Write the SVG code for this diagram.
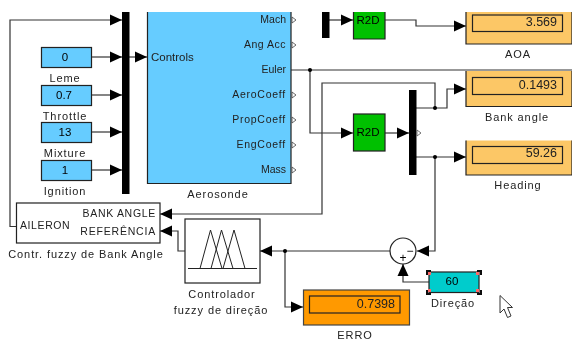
<svg xmlns="http://www.w3.org/2000/svg" width="572" height="342" viewBox="0 0 572 342">
<defs>
<marker id="ah" markerUnits="userSpaceOnUse" markerWidth="13" markerHeight="13" refX="12" refY="6.500" orient="auto"><path d="M0,1 L12,6.500 L0,12 Z" fill="#000"/></marker>
<filter id="soft" x="0" y="0" width="100%" height="100%"><feGaussianBlur stdDeviation="0.35"/></filter>
</defs>
<style>
text{font-family:"Liberation Sans",Arial,sans-serif;font-size:11px;fill:#222}
.lbl{letter-spacing:.9px;text-anchor:middle}
.c{fill:#000;font-size:11.5px;text-anchor:middle}
.r{text-anchor:end;font-size:10.5px}
.wide{letter-spacing:.75px}
.v{font-size:12.5px;text-anchor:end;fill:#222}
.blk{stroke:#222;stroke-width:1.2}
.const{fill:#66ccff}
.disp{fill:#fcc766}
.in{fill:none;stroke:#222;stroke-width:1.2}
.bus{fill:#000}
.w{fill:none;stroke:#333;stroke-width:1.2}
.a{marker-end:url(#ah)}
.dot{fill:#000}
.g{fill:#00c000;stroke:#222;stroke-width:1.2}
</style>
<g filter="url(#soft)">
<g id="connectors">
<path class="w a" d="M16,226.500 H10 V20 H122"/>
<path class="w a" d="M91,57 H122"/>
<path class="w a" d="M91,95 H122"/>
<path class="w a" d="M91,132 H122"/>
<path class="w a" d="M91,170 H122"/>
<path class="w a" d="M129,57 H147"/>
<path class="w a" d="M329,20 H353"/>
<path class="w a" d="M385,20 H416 V26 H466"/>
<path class="w" d="M291,70 H572"/>
<path class="w a" d="M310,70 V133 H353"/>
<path class="w a" d="M385,133 H409"/>
<path class="w a" d="M416,108 H447 V89 H466"/>
<path class="w a" d="M416,157 H466"/>
<path class="w a" d="M435,108 V83 H322 V214 H160"/>
<path class="w a" d="M435,157 V251 H417"/>
<path class="w a" d="M429,282 H403 V264"/>
<path class="w a" d="M390,251 H260"/>
<path class="w a" d="M285,251 V307 H303"/>
<path class="w a" d="M185,251 H178 V231 H160"/>
<circle class="dot" cx="310" cy="70" r="2"/>
<circle class="dot" cx="435" cy="108" r="2"/>
<circle class="dot" cx="435" cy="157" r="2"/>
<circle class="dot" cx="285" cy="251" r="2"/>
</g>
<g id="bus1"><rect class="bus" x="122" y="12" width="7.500" height="182"/></g>
<g id="leme"><rect class="const blk" x="41.500" y="47.500" width="50" height="20"/><text class="c" x="65" y="61">0</text><text class="lbl" x="65" y="82">Leme</text></g>
<g id="throttle"><rect class="const blk" x="41.500" y="85.500" width="50" height="20"/><text class="c" x="64" y="99">0.7</text><text class="lbl" x="65" y="120">Throttle</text></g>
<g id="mixture"><rect class="const blk" x="41.500" y="122.500" width="50" height="20"/><text class="c" x="65" y="136">13</text><text class="lbl" x="65" y="157">Mixture</text></g>
<g id="ignition"><rect class="const blk" x="41.500" y="160.500" width="50" height="20"/><text class="c" x="65" y="174">1</text><text class="lbl" x="65" y="195">Ignition</text></g>
<g id="aerosonde">
<path class="const blk" d="M147.500,12 V183.500 H291 V12"/>
<text x="151" y="61" style="font-size:11.500px">Controls</text>
<text class="r" x="286" y="23">Mach</text>
<text class="r" x="286" y="48" style="letter-spacing:.5px">Ang Acc</text>
<text class="r" x="286" y="73">Euler</text>
<text class="r wide" x="286" y="98">AeroCoeff</text>
<text class="r wide" x="286" y="123">PropCoeff</text>
<text class="r wide" x="286" y="148">EngCoeff</text>
<text class="r" x="286" y="173">Mass</text>
<path fill="#fff" stroke="#444" stroke-width=".8" d="M292,17 l4,3 l-4,3 Z M292,42 l4,3 l-4,3 Z M292,92 l4,3 l-4,3 Z M292,117 l4,3 l-4,3 Z M292,142 l4,3 l-4,3 Z M292,167 l4,3 l-4,3 Z"/>
<text class="lbl" x="218" y="198">Aerosonde</text>
</g>
<g id="bus2"><rect class="bus" x="322" y="12" width="7.500" height="26"/></g>
<g id="r2d1"><path class="g" d="M353.500,12 V39 H385 V12"/><text class="c" x="368" y="24">R2D</text></g>
<g id="aoa"><path class="disp blk" d="M466,12 V44 H572 V12"/><rect class="in" x="472.500" y="15" width="90" height="16.500"/><text class="v" x="557" y="26">3.569</text><text class="lbl" x="518" y="58">AOA</text></g>
<g id="r2d2"><rect class="g" x="353.500" y="114" width="31.500" height="37"/><text class="c" x="368" y="136">R2D</text></g>
<g id="bus3"><rect class="bus" x="409" y="90" width="7.500" height="85"/><path fill="#fff" stroke="#555" stroke-width=".8" d="M417,130 l4,3 l-4,3 Z"/></g>
<g id="bank"><path class="disp blk" d="M466,71 V106.500 H572 V71"/><rect class="in" x="472.500" y="77.500" width="90" height="17"/><text class="v" x="557" y="89">0.1493</text><text class="lbl" x="517" y="121">Bank angle</text></g>
<g id="heading"><path class="disp blk" d="M466,140.500 V175 H572 V140.500"/><rect class="in" x="472.500" y="146.500" width="90" height="17"/><text class="v" x="557" y="157">59.26</text><text class="lbl" x="518" y="189">Heading</text></g>
<g id="contr"><rect x="16.500" y="203" width="143.500" height="40" fill="#fff" stroke="#222" stroke-width="1.200"/>
<text x="20" y="229" style="font-size:10.500px;letter-spacing:.6px">AILERON</text>
<text class="r" x="156" y="217" style="letter-spacing:.7px">BANK ANGLE</text>
<text class="r" x="156" y="235" style="letter-spacing:.8px">REFERÊNCIA</text>
<text class="lbl" x="86" y="258">Contr. fuzzy de Bank Angle</text></g>
<g id="fuzzy"><rect x="185" y="219" width="75" height="64" fill="#fff" stroke="#222" stroke-width="1.200"/>
<path fill="none" stroke="#222" stroke-width="1" d="M188,268.500 H257 M200,268.500 L210.500,230 L222,268.500 M211,268.500 L221.500,230 L233,268.500 M223,268.500 L234,230 L245,268.500"/>
<text class="lbl" x="222" y="298">Controlador</text><text class="lbl" x="221" y="314">fuzzy de direção</text></g>
<g id="sum"><circle cx="403" cy="251" r="13" fill="#fff" stroke="#222" stroke-width="1.200"/><text x="410" y="255" style="font-size:12px;text-anchor:middle;fill:#000">−</text><text x="403" y="262" style="font-size:12px;text-anchor:middle;fill:#000">+</text></g>
<g id="erro"><rect x="303.500" y="290" width="106" height="35" fill="#ff9900" stroke="#444" stroke-width="1.200"/><rect class="in" x="309.500" y="296" width="90.500" height="17"/><text class="v" x="395" y="308">0.7398</text><text class="lbl" x="355" y="339">ERRO</text></g>
<g id="direcao"><rect x="429" y="272" width="50" height="20.500" fill="#00cccc" stroke="#222" stroke-width="1.200"/><text class="c" x="452" y="285">60</text>
<path fill="#111" d="M426,270 h5 v2 h-3 v3 h-2 Z M477,270 h5 v5 h-2 v-3 h-3 Z M426,290 h2 v3 h3 v2 h-5 Z M480,290 h2 v5 h-5 v-2 h3 Z"/>
<path fill="#f66" d="M428,272 h3 v3 h-3 Z M476,272 h3 v3 h-3 Z M428,289 h3 v3 h-3 Z M476,289 h3 v3 h-3 Z"/>
<text class="lbl" x="453" y="307">Direção</text></g>
<g id="cursor"><path fill="#fff" stroke="#333" stroke-width="1" d="M500,295.500 V313 L504,309 L507.500,317.500 L511,316 L507.500,307.500 L512.500,307.500 Z"/></g>
</g>
</svg>
